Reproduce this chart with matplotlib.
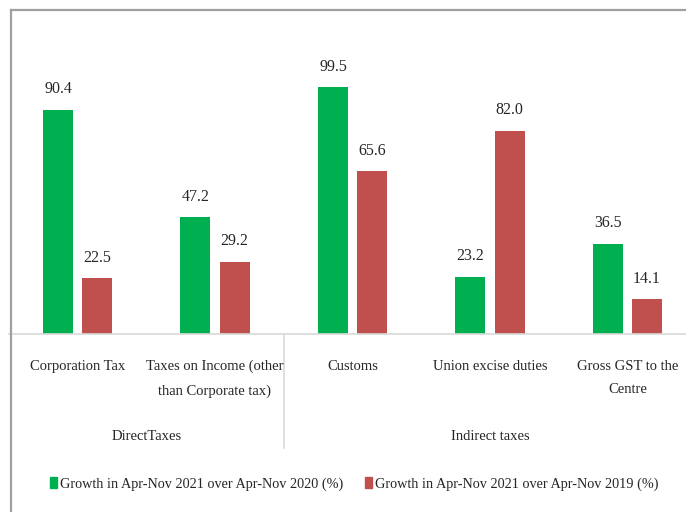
import matplotlib
matplotlib.use("Agg")
import matplotlib.pyplot as plt
from matplotlib.patches import Patch
from matplotlib.lines import Line2D

plt.rcParams['font.family'] = ['Liberation Serif', 'DejaVu Serif']

# data
categories = ["Corporation Tax", "Taxes on Income (other\nthan Corporate tax)",
              "Customs", "Union excise duties", "Gross GST to the\nCentre"]
groups = ["DirectTaxes", "Indirect taxes"]
group_centers = [0.5, 3.0]
growth_2020 = [90.4, 47.2, 99.5, 23.2, 36.5]
growth_2019 = [22.5, 29.2, 65.6, 82.0, 14.1]
series_names = ["Growth in Apr-Nov 2021 over Apr-Nov 2020 (%)",
                "Growth in Apr-Nov 2021 over Apr-Nov 2019 (%)"]

green = "#00B050"
red = "#C0504D"
txt = "#262626"
W, H = 686, 512

fig = plt.figure(figsize=(W / 100, H / 100), dpi=100)
# axes: left edge of first category at x=8.75px, baseline at y=334px, top at y=20px
ax = fig.add_axes([8.75 / W, (H - 334.3) / H, 687.5 / W, 314.3 / H])
ax.set_xlim(-0.5, 4.5)
ax.set_ylim(0, 314.3 / 2.485)

x = list(range(len(categories)))
bw = 0.218
off = 0.142
b1 = ax.bar([i - off for i in x], growth_2020, width=bw, color=green)
b2 = ax.bar([i + off for i in x], growth_2019, width=bw, color=red)

for bars, vals in ((b1, growth_2020), (b2, growth_2019)):
    for b, v in zip(bars, vals):
        ax.annotate(f"{v:.1f}", (b.get_x() + b.get_width() / 2, v),
                    xytext=(0, 9), textcoords="offset points",
                    ha="center", va="bottom", fontsize=11.5, color=txt)

for s in ("top", "left", "right"):
    ax.spines[s].set_visible(False)
ax.spines["bottom"].set_color("#d9d9d9")
ax.spines["bottom"].set_linewidth(1.2)
ax.set_yticks([])
ax.set_xticks([])

# category labels
for i, c in enumerate(categories):
    ax.annotate(c, (i, 0), xycoords=("data", "axes fraction"),
                xytext=(0, -18.5), textcoords="offset points",
                ha="center", va="top", multialignment="center",
                linespacing=2.05, fontsize=10.5, color=txt)

# group labels
for g, gc in zip(groups, group_centers):
    ax.annotate(g, (gc, 0), xycoords=("data", "axes fraction"),
                xytext=(0, -69), textcoords="offset points",
                ha="center", va="top", fontsize=10.5, color=txt)

# separator between the two groups
sep = Line2D([1.5, 1.5], [0, -114 / 314.3], transform=ax.get_xaxis_transform(),
             color="#d9d9d9", lw=1.2, clip_on=False)
ax.add_artist(sep)

# chart frame (cropped on the right and bottom)
frame_col = "#a0a0a0"
fig.add_artist(Line2D([11 / W, 11 / W], [0, 1 - 10 / H], color=frame_col, lw=1.6,
                      transform=fig.transFigure))
fig.add_artist(Line2D([11 / W, 1], [1 - 10 / H, 1 - 10 / H], color=frame_col, lw=1.6,
                      transform=fig.transFigure))

handles = [Patch(color=green), Patch(color=red)]
fig.legend(handles, series_names, loc="center", bbox_to_anchor=(354 / W, 1 - 484 / H),
           ncol=2, frameon=False, fontsize=10.3, handlelength=0.5, handleheight=0.8,
           handletextpad=0.2, columnspacing=1.5, labelcolor=txt)

fig.savefig("out.png", dpi=100)
